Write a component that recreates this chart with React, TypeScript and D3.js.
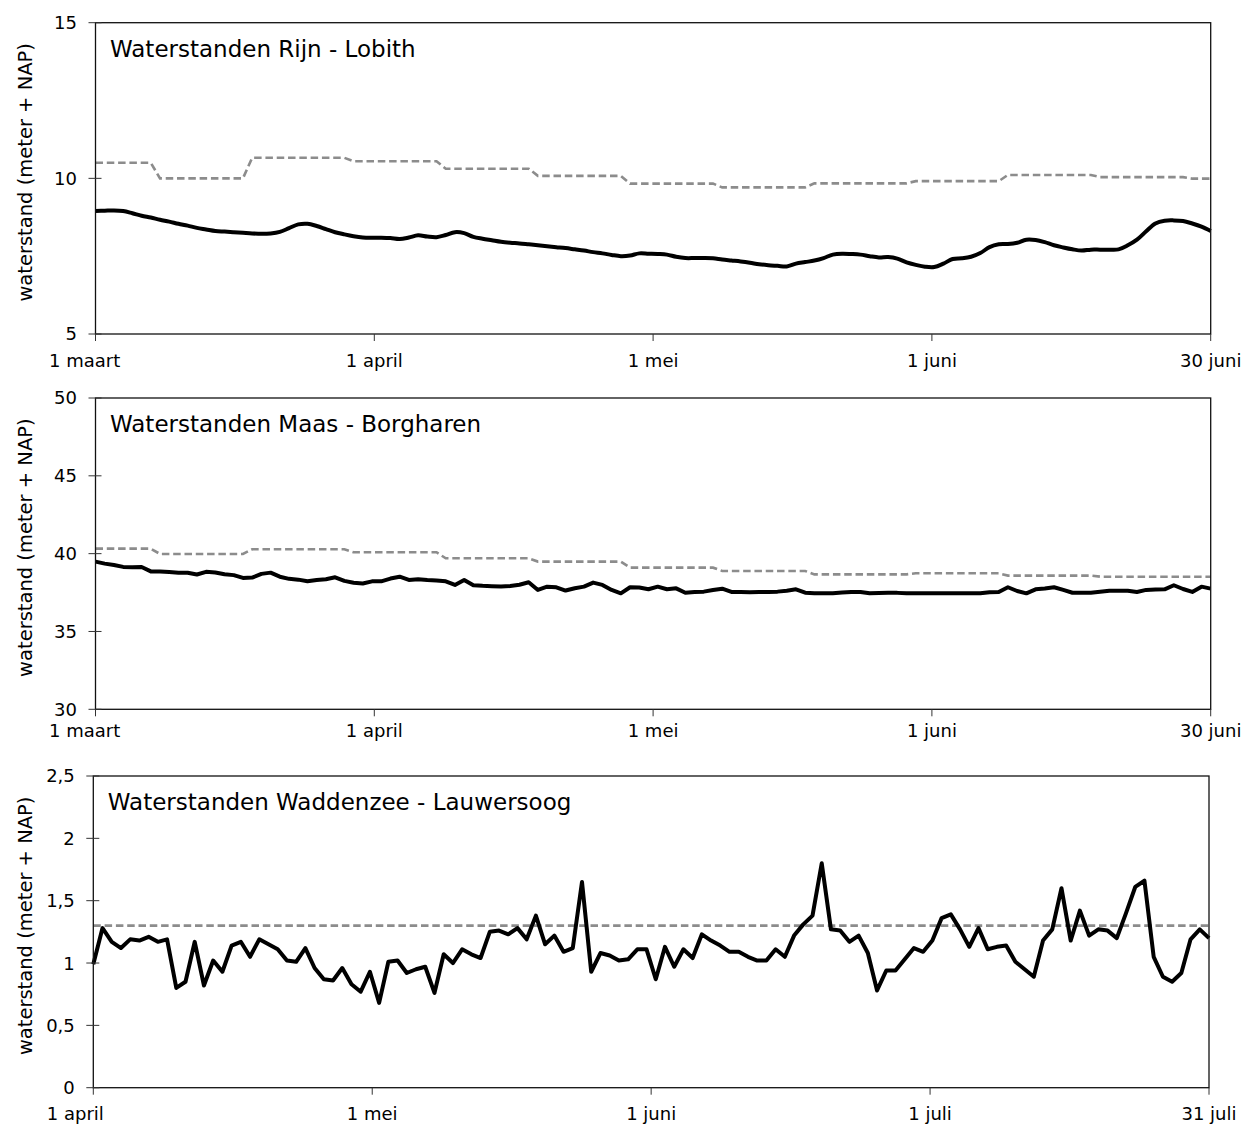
import React from 'react';
import * as d3 from 'd3';

// ---------- data ----------
const rijnLevels = [
  8.95, 8.96, 8.97, 8.95, 8.88, 8.80, 8.74, 8.67, 8.61, 8.54,
  8.48, 8.41, 8.36, 8.31, 8.29, 8.27, 8.25, 8.23, 8.22, 8.23,
  8.28, 8.40, 8.52, 8.54, 8.47, 8.37, 8.27, 8.20, 8.14, 8.10,
  8.09, 8.09, 8.08, 8.05, 8.10, 8.17, 8.13, 8.11, 8.18, 8.27,
  8.24, 8.12, 8.06, 8.01, 7.96, 7.93, 7.91, 7.88, 7.85, 7.82,
  7.79, 7.76, 7.72, 7.68, 7.63, 7.59, 7.54, 7.50, 7.52, 7.59,
  7.58, 7.57, 7.55, 7.48, 7.44, 7.44, 7.44, 7.43, 7.39, 7.36,
  7.33, 7.29, 7.24, 7.21, 7.19, 7.17, 7.26, 7.31, 7.36, 7.44,
  7.55, 7.58, 7.57, 7.55, 7.50, 7.46, 7.47, 7.42, 7.30, 7.22,
  7.16, 7.15, 7.26, 7.41, 7.43, 7.48, 7.60, 7.79, 7.88, 7.89,
  7.93, 8.03, 8.02, 7.95, 7.85, 7.78, 7.72, 7.68, 7.71, 7.71,
  7.71, 7.72, 7.85, 8.03, 8.30, 8.55, 8.64, 8.65, 8.63, 8.55,
  8.45, 8.31,
];
const decadeStarts = [0, 7, 17, 28, 38, 48, 58, 68, 78, 89, 99, 109, 119];
const rijnReference = [10.50, 10.00, 10.66, 10.55, 10.31, 10.08, 9.83, 9.71, 9.84, 9.91, 10.11, 10.04, 9.99];

const maasLevels = [
  39.49, 39.36, 39.27, 39.15, 39.12, 39.14, 38.86, 38.86, 38.82, 38.78,
  38.77, 38.66, 38.83, 38.79, 38.68, 38.62, 38.44, 38.46, 38.70, 38.78,
  38.52, 38.38, 38.33, 38.23, 38.31, 38.36, 38.48, 38.25, 38.13, 38.08,
  38.22, 38.22, 38.40, 38.52, 38.31, 38.35, 38.30, 38.27, 38.22, 37.99,
  38.31, 37.97, 37.93, 37.91, 37.89, 37.92, 38.00, 38.16, 37.67, 37.88,
  37.84, 37.63, 37.78, 37.88, 38.14, 37.99, 37.67, 37.45, 37.84, 37.82,
  37.71, 37.88, 37.71, 37.77, 37.49, 37.53, 37.56, 37.67, 37.75, 37.54,
  37.53, 37.52, 37.53, 37.54, 37.56, 37.62, 37.71, 37.49, 37.46, 37.45,
  37.45, 37.50, 37.54, 37.54, 37.45, 37.47, 37.49, 37.48, 37.45, 37.45,
  37.45, 37.45, 37.45, 37.45, 37.45, 37.45, 37.45, 37.52, 37.54, 37.84,
  37.60, 37.45, 37.71, 37.76, 37.84, 37.67, 37.49, 37.49, 37.49, 37.55,
  37.62, 37.61, 37.62, 37.54, 37.67, 37.69, 37.71, 37.97, 37.73, 37.54,
  37.88, 37.75,
];
const maasReference = [40.32, 39.98, 40.28, 40.09, 39.70, 39.49, 39.10, 38.89, 38.67, 38.74, 38.59, 38.52, 38.52];

const waddenLevels = [
  0.99, 1.28, 1.17, 1.12, 1.19, 1.18, 1.21, 1.17, 1.19, 0.80,
  0.85, 1.17, 0.82, 1.02, 0.93, 1.14, 1.17, 1.05, 1.19, 1.15,
  1.11, 1.02, 1.01, 1.12, 0.96, 0.87, 0.86, 0.96, 0.83, 0.77,
  0.93, 0.68, 1.01, 1.02, 0.92, 0.95, 0.97, 0.76, 1.07, 1.00,
  1.11, 1.07, 1.04, 1.25, 1.26, 1.23, 1.28, 1.19, 1.38, 1.15,
  1.22, 1.09, 1.12, 1.65, 0.93, 1.08, 1.06, 1.02, 1.03, 1.11,
  1.11, 0.87, 1.13, 0.97, 1.11, 1.04, 1.23, 1.18, 1.14, 1.09,
  1.09, 1.05, 1.02, 1.02, 1.11, 1.05, 1.22, 1.31, 1.38, 1.80,
  1.27, 1.26, 1.17, 1.22, 1.08, 0.78, 0.94, 0.94, 1.03, 1.12,
  1.09, 1.18, 1.36, 1.39, 1.27, 1.13, 1.28, 1.11, 1.13, 1.14,
  1.01, 0.95, 0.89, 1.18, 1.27, 1.60, 1.18, 1.42, 1.22, 1.27,
  1.26, 1.20, 1.40, 1.61, 1.66, 1.05, 0.89, 0.85, 0.92, 1.19,
  1.27, 1.20,
];
const waddenReference = 1.3;

const marchJuneLabels = ['1 maart', '1 april', '1 mei', '1 juni', '30 juni'];
const aprilJulyLabels = ['1 april', '1 mei', '1 juni', '1 juli', '31 juli'];
const rijnTicks = [5, 10, 15];
const maasTicks = [30, 35, 40, 45, 50];
const waddenTicks = [0, 0.5, 1, 1.5, 2, 2.5];

const yTitle = 'waterstand (meter + NAP)';

// expand decade reference values to a daily series
function expandSteps(starts: number[], values: number[], n: number) {
  const out: number[] = [];
  for (let i = 0; i < n; i++) {
    let k = 0;
    for (let j = 0; j < starts.length; j++) if (starts[j] <= i) k = j;
    out.push(values[k]);
  }
  return out;
}

const FONT = '"DejaVu Sans", Verdana, sans-serif';
const fmt = (v: number) => String(v).replace('.', ',');

type PanelProps = {
  title: string;
  levels: number[];
  reference: number[];
  yDomain: [number, number];
  yTicks: number[];
  xLabels: string[];
  box: { left: number; right: number; top: number; bottom: number };
  xLabelGap: number;
  smooth: boolean;
};

function Panel({ title, levels, reference, yDomain, yTicks, xLabels, box, xLabelGap, smooth }: PanelProps) {
  const n = levels.length;
  const x = d3.scaleLinear().domain([0, n - 1]).range([box.left, box.right]);
  const y = d3.scaleLinear().domain(yDomain).range([box.bottom, box.top]);
  const line = d3
    .line<number>()
    .x((_, i) => x(i))
    .y((d) => y(d))
    .curve(smooth ? d3.curveCatmullRom.alpha(0.5) : d3.curveLinear);
  const refLine = d3
    .line<number>()
    .x((_, i) => x(i))
    .y((d) => y(d));
  const tickPos = xLabels.map((_, i) => ((n - 1) * i) / (xLabels.length - 1));
  const midY = (box.top + box.bottom) / 2 - 6;

  return (
    <g fontFamily={FONT} fill="#000">
      <path d={refLine(reference) || ''} fill="none" stroke="#8c8c8c" strokeWidth={2.6} strokeDasharray="7.5,3.8" />
      <path d={line(levels) || ''} fill="none" stroke="#000" strokeWidth={4} strokeLinejoin="round" />
      <rect
        x={box.left}
        y={box.top}
        width={box.right - box.left}
        height={box.bottom - box.top}
        fill="none"
        stroke="#111"
        strokeWidth={1.3}
      />
      {yTicks.map((t) => (
        <g key={'y' + t}>
          <line x1={box.left - 7} x2={box.left + 6} y1={y(t)} y2={y(t)} stroke="#333" strokeWidth={1} />
          <text x={box.left - 18.5} y={y(t)} dy="0.36em" textAnchor="end" fontSize={18}>
            {fmt(t)}
          </text>
        </g>
      ))}
      {tickPos.map((p, i) => (
        <g key={'x' + i}>
          <line x1={x(p)} x2={x(p)} y1={box.bottom} y2={box.bottom + 7} stroke="#333" strokeWidth={1} />
          <text
            x={i === 0 ? box.left - 46.5 : x(p)}
            y={box.bottom + xLabelGap}
            textAnchor={i === 0 ? 'start' : 'middle'}
            fontSize={18}
          >
            {xLabels[i]}
          </text>
        </g>
      ))}
      <text x={box.left + 14.5} y={box.top + 34} fontSize={23}>
        {title}
      </text>
      <text
        transform={`translate(32,${midY}) rotate(-90)`}
        textAnchor="middle"
        fontSize={19.5}
      >
        {yTitle}
      </text>
    </g>
  );
}

export default function App() {
  const n = rijnLevels.length;
  const rijnRef = expandSteps(decadeStarts, rijnReference, n);
  const maasRef = expandSteps(decadeStarts, maasReference, maasLevels.length);
  const waddenRef = waddenLevels.map(() => waddenReference);
  return (
    <svg
      width={1245}
      height={1124}
      style={{ position: 'absolute', left: 0, top: 0, background: '#fff' }}
    >
      <rect width={1245} height={1124} fill="#fff" />
      <Panel
        title="Waterstanden Rijn - Lobith"
        levels={rijnLevels}
        reference={rijnRef}
        yDomain={[5, 15]}
        yTicks={rijnTicks}
        xLabels={marchJuneLabels}
        box={{ left: 95.5, right: 1210.7, top: 22.7, bottom: 334 }}
        xLabelGap={32.5}
        smooth={true}
      />
      <Panel
        title="Waterstanden Maas - Borgharen"
        levels={maasLevels}
        reference={maasRef}
        yDomain={[30, 50]}
        yTicks={maasTicks}
        xLabels={marchJuneLabels}
        box={{ left: 95.5, right: 1210.7, top: 398, bottom: 709.3 }}
        xLabelGap={28}
        smooth={false}
      />
      <Panel
        title="Waterstanden Waddenzee - Lauwersoog"
        levels={waddenLevels}
        reference={waddenRef}
        yDomain={[0, 2.5]}
        yTicks={waddenTicks}
        xLabels={aprilJulyLabels}
        box={{ left: 93.3, right: 1209, top: 776, bottom: 1087.7 }}
        xLabelGap={32.5}
        smooth={false}
      />
    </svg>
  );
}
